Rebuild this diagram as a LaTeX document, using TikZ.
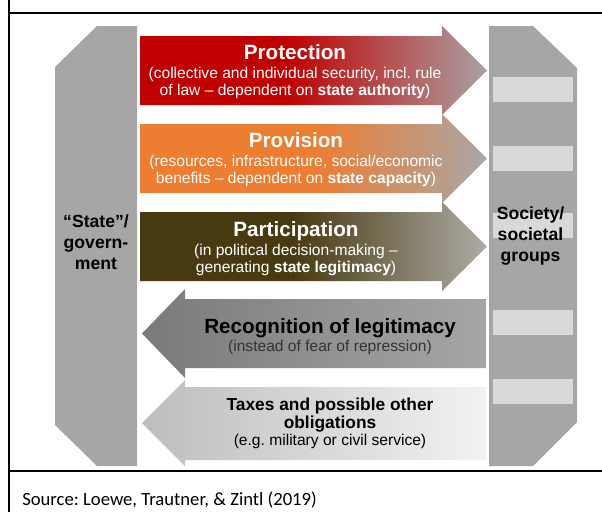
\documentclass[tikz,border=0pt]{standalone}
\usepackage{fontspec}
\setmainfont{Liberation Sans}
\newfontfamily\srcfont{Carlito}
\usetikzlibrary{positioning}

\definecolor{bargray}{HTML}{A6A6A6}
\definecolor{slotgray}{HTML}{D9D9D9}
\definecolor{protred}{HTML}{C00000}
\definecolor{protend}{HTML}{AAA1A3}
\definecolor{provorange}{HTML}{ED7D31}
\definecolor{provend}{HTML}{A9A7A6}
\definecolor{partbrown}{HTML}{483A10}
\definecolor{partend}{HTML}{AEABA7}
\definecolor{recogleft}{HTML}{7A7A7A}
\definecolor{recogright}{HTML}{A6A6A6}
\definecolor{taxleft}{HTML}{BDBDBD}
\definecolor{taxright}{HTML}{F2F2F2}

\pgfdeclarehorizontalshading{protfade}{100bp}{color(0bp)=(protred); color(46bp)=(protred); color(75bp)=(protend); color(100bp)=(protend)}
\pgfdeclarehorizontalshading{provfade}{100bp}{color(0bp)=(provorange); color(50bp)=(provorange); color(75bp)=(provend); color(100bp)=(provend)}
\pgfdeclarehorizontalshading{partfade}{100bp}{color(0bp)=(partbrown); color(47bp)=(partbrown); color(75bp)=(partend); color(100bp)=(partend)}

\begin{document}
\frenchspacing
\begin{tikzpicture}[x=0.75pt, y=-0.75pt,
    head/.style={font=\bfseries\fontsize{15.5}{17}\selectfont, align=center, inner sep=0pt},
    note/.style={font=\fontsize{11.7}{12.5}\selectfont, align=center, inner sep=0pt},
    side/.style={font=\bfseries\fontsize{13.2}{15.4}\selectfont, align=center, inner sep=0pt},
    frame/.style={line width=1.5pt}]

  \useasboundingbox (0,0) rectangle (602,512);

  % frame lines
  \draw[frame] (8.5,0) -- (8.5,512);
  \draw[frame] (8.5,12.5) -- (602,12.5);
  \draw[frame] (8.5,471) -- (602,471);

  % the two columns
  \fill[bargray] (55,67) -- (97,26) -- (137,26) -- (137,466) -- (97,466) -- (55,425) -- cycle;
  \fill[bargray] (489,26) -- (533,26) -- (577,68) -- (577,422) -- (533,466) -- (489,466) -- cycle;
  \foreach \y in {77,146,213,310,379}
    \fill[slotgray] (493,\y) rectangle (573,\y+25);

  % arrows to society
  \shade[shading=protfade] (140,36) -- (442,36) -- (442,26) -- (487,70.5) -- (442,115) -- (442,105) -- (140,105) -- cycle;
  \shade[shading=provfade] (140,124) -- (442,124) -- (442,114) -- (487,158.5) -- (442,203) -- (442,193) -- (140,193) -- cycle;
  \shade[shading=partfade] (140,212) -- (442,212) -- (442,202) -- (487,246.5) -- (442,291) -- (442,281) -- (140,281) -- cycle;

  % arrows to the state
  \shade[left color=recogleft, right color=recogright] (486,299) -- (185,299) -- (185,289) -- (142,333.5) -- (185,378) -- (185,368) -- (486,368) -- cycle;
  \shade[left color=taxleft, right color=taxright] (486,387) -- (185,387) -- (185,380) -- (142,423) -- (185,466) -- (185,460) -- (486,460) -- cycle;

  % texts (base = last line)
  \node[head, text=white, anchor=base] (prot) at (295,59) {Protection};
  \node[note, text=white, anchor=base] (protnote) at (295,95.5) {(collective and individual security, incl. rule\\of law -- dependent on \textbf{state authority})};

  \node[head, text=white, anchor=base] (prov) at (296,147) {Provision};
  \node[note, text=white, anchor=base] (provnote) at (296,183.5) {(resources, infrastructure, social/economic\\benefits -- dependent on \textbf{state capacity})};

  \node[head, text=white, anchor=base] (part) at (296,236) {Participation};
  \node[note, text=white, anchor=base] (partnote) at (296,272.5) {(in political decision-making --\\generating \textbf{state legitimacy})};

  \node[head, anchor=base] (recog) at (330,333) {Recognition of legitimacy};
  \node[note, text=black!80, anchor=base] (recognote) at (330,351) {(instead of fear of repression)};

  \node[head, font=\bfseries\fontsize{13}{13.2}\selectfont, anchor=base] (tax) at (330,428) {Taxes and possible other\\obligations};
  \node[note, anchor=base] (taxnote) at (330,445) {(e.g. military or civil service)};

  \node[side, anchor=base] (state) at (96,269) {“State”/\\govern-\\ment};
  \node[side, anchor=base] (society) at (530.5,261) {Society/\\societal\\groups};

  \node[anchor=base west, inner sep=0pt, font=\srcfont\fontsize{14}{16}\selectfont] (src) at (22,505) {Source: Loewe, Trautner, \& Zintl (2019)};
\end{tikzpicture}
\end{document}
